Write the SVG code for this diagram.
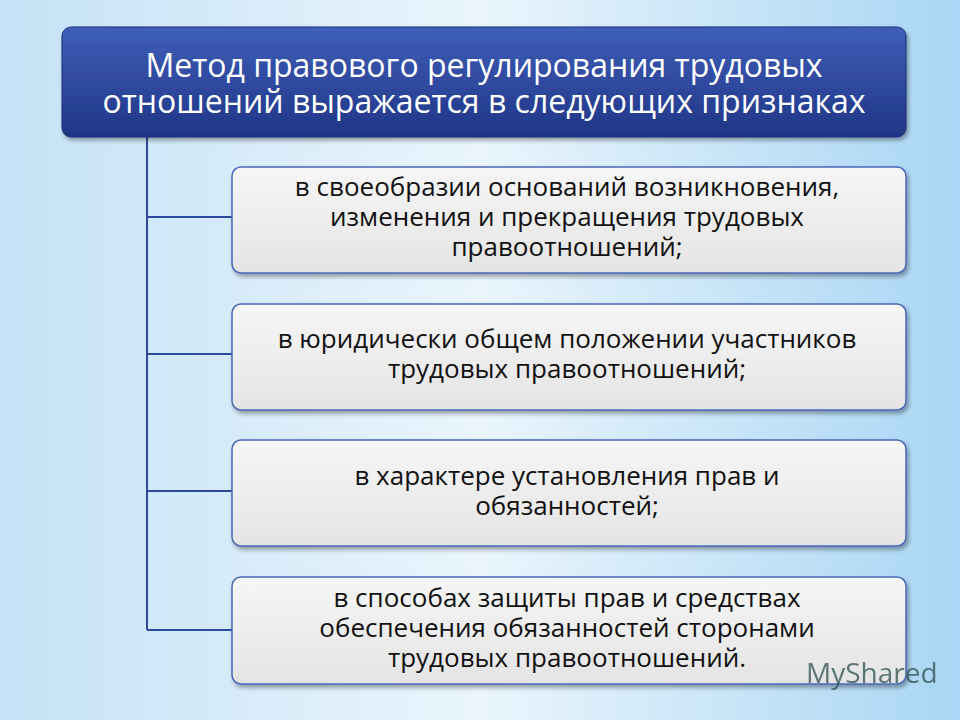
<svg xmlns="http://www.w3.org/2000/svg" width="960" height="720" viewBox="0 0 960 720">
<defs>
<linearGradient id="bg" x1="0" y1="0" x2="1" y2="0">
<stop offset="0" stop-color="#c4e2f6"/><stop offset="0.5" stop-color="#eaf5fc"/><stop offset="1" stop-color="#a9d6f4"/>
</linearGradient>
<linearGradient id="hd" x1="0" y1="0" x2="0" y2="1">
<stop offset="0" stop-color="#3f5fb8"/><stop offset="1" stop-color="#1f3586"/>
</linearGradient>
<linearGradient id="bx" x1="0" y1="0" x2="0" y2="1">
<stop offset="0" stop-color="#f6f6f6"/><stop offset="1" stop-color="#e4e4e4"/>
</linearGradient>
<filter id="sh" x="-5%" y="-10%" width="110%" height="130%"><feDropShadow dx="2" dy="3" stdDeviation="2" flood-color="#000" flood-opacity="0.35"/></filter>
</defs>
<style>
.box{fill:url(#bx);stroke:#4a67b8;stroke-width:1.5;filter:url(#sh)}
.t{font-family:"Open Sans","Noto Sans",sans-serif;font-size:26px;font-weight:500;fill:#111;text-anchor:middle}
.h{font-family:"Open Sans","Noto Sans",sans-serif;font-size:32px;fill:#fff;text-anchor:middle}
.c{stroke:#2e4a9e;stroke-width:2;fill:none}
</style>
<rect width="960" height="720" fill="url(#bg)"/>
<g id="connectors">
<path class="c" d="M147 137 V630 M147 217 H232 M147 354 H232 M147 491 H232 M147 630 H232"/>
</g>
<g id="header">
<rect x="62" y="27" width="844" height="110" rx="9" fill="url(#hd)" stroke="#1c2f78" filter="url(#sh)"/>
<text class="h" x="484" y="77">Метод правового регулирования трудовых</text>
<text class="h" x="484" y="113">отношений выражается в следующих признаках</text>
</g>
<g id="n1">
<rect class="box" x="232" y="167" width="674" height="106" rx="9"/>
<text class="t" x="567" y="196">в своеобразии оснований возникновения,</text>
<text class="t" x="567" y="226">изменения и прекращения трудовых</text>
<text class="t" x="567" y="256">правоотношений;</text>
</g>
<g id="n2">
<rect class="box" x="232" y="304" width="674" height="106" rx="9"/>
<text class="t" x="567" y="348">в юридически общем положении участников</text>
<text class="t" x="567" y="378">трудовых правоотношений;</text>
</g>
<g id="n3">
<rect class="box" x="232" y="440" width="674" height="106" rx="9"/>
<text class="t" x="567" y="485">в характере установления прав и</text>
<text class="t" x="567" y="515">обязанностей;</text>
</g>
<g id="n4">
<rect class="box" x="232" y="577" width="674" height="107" rx="9"/>
<text class="t" x="567" y="607">в способах защиты прав и средствах</text>
<text class="t" x="567" y="637">обеспечения обязанностей сторонами</text>
<text class="t" x="567" y="667">трудовых правоотношений.</text>
</g>
<text x="806" y="683" font-family="'Open Sans','Noto Sans',sans-serif" font-size="28" fill="#2f4f4f" opacity="0.75">MyShared</text>
</svg>
